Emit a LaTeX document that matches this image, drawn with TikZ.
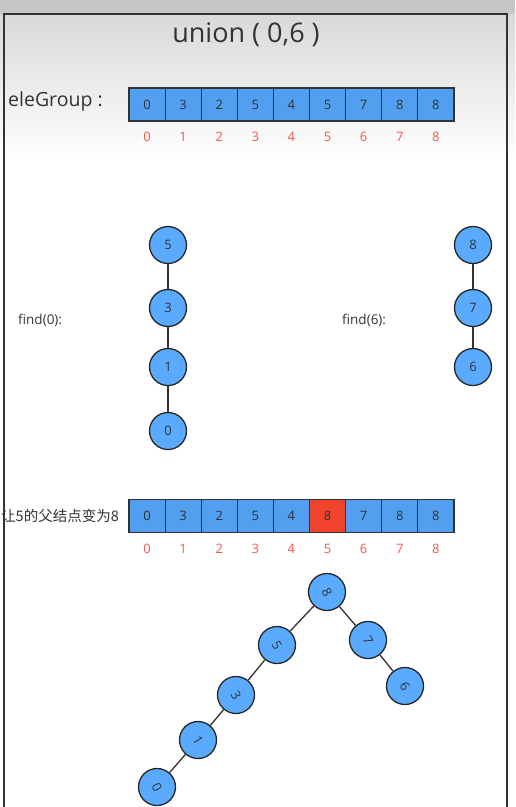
\documentclass[tikz,border=0pt]{standalone}
\usepackage{fontspec}
\setmainfont{Open Sans}
\newfontfamily\cjk{Noto Sans CJK SC}
\usetikzlibrary{positioning}

\definecolor{cellblue}{HTML}{529FEF}
\definecolor{nodeblue}{HTML}{5AABFF}
\definecolor{cellred}{HTML}{F2432C}
\definecolor{idxred}{HTML}{F05A4A}
\definecolor{ink}{HTML}{333333}

\tikzset{
  celda/.style={draw=ink, line width=1.2pt, fill=cellblue, minimum width=36.1pt,
    minimum height=33pt, inner sep=0pt, text=ink, font=\fontsize{13}{13}\selectfont},
  indice/.style={text=idxred, font=\fontsize{13}{13}\selectfont, inner sep=0pt},
  nodo/.style={draw=black!85, line width=1.3pt, circle, fill=nodeblue, minimum size=37pt,
    inner sep=0pt, text=ink, font=\fontsize{13}{13}\selectfont},
  arista/.style={draw=ink, line width=1.3pt},
  etiqueta/.style={inner sep=0pt, text=ink}
}

\begin{document}
\begin{tikzpicture}[x=1pt,y=-1pt]
  \useasboundingbox (0,0) rectangle (515,807);
  % Fondo
  \fill[gray!45] (0,0) rectangle (515,14);
  \shade[top color=gray!30, bottom color=white] (0,14) rectangle (515,160);
  \draw[ink, line width=1.3pt] (4,830) -- (4,14) -- (507,14) -- (507,830);

  % Textos
  \node[etiqueta, font=\fontsize{27}{27}\selectfont] (titulo) at (246,35) {union ( 0,6 )};
  \node[etiqueta, anchor=west, font=\fontsize{19.5}{19.5}\selectfont] (ele) at (8,101) {eleGroup :};
  \node[etiqueta, anchor=west, font=\fontsize{13.5}{13.5}\selectfont] (find0) at (18,320) {find(0):};
  \node[etiqueta, anchor=west, font=\fontsize{13.5}{13.5}\selectfont] (find6) at (342,320) {find(6):};
  \node[etiqueta, anchor=east, font=\cjk\fontsize{14.5}{14.5}\selectfont] (cambio) at (119,516) {让5的父结点变为8};

  % Arreglos
  \foreach \v [count=\i from 0] in {0,3,2,5,4,5,7,8,8}{
    \node[celda] (a\i) at (147.05+36.1*\i,104.5) {\v};
    \node[indice] (ia\i) at (147.05+36.1*\i,137) {\i};
  }
  \foreach \v [count=\i from 0] in {0,3,2,5,4,8,7,8,8}{
    \ifnum\i=5
      \node[celda, fill=cellred] (b\i) at (147.05+36.1*\i,516) {\v};
    \else
      \node[celda] (b\i) at (147.05+36.1*\i,516) {\v};
    \fi
    \node[indice] (ib\i) at (147.05+36.1*\i,549) {\i};
  }

  % Nodos
  \node[nodo] (f5) at (168,245) {5};
  \node[nodo] (f3) at (168,308) {3};
  \node[nodo] (f1) at (168,367) {1};
  \node[nodo] (f0) at (168,431) {0};
  \node[nodo] (g8) at (473,245) {8};
  \node[nodo] (g7) at (473,308) {7};
  \node[nodo] (g6) at (473,367) {6};

  \node[nodo] (t8) at (327,592) {\rotatebox{-60}{8}};
  \node[nodo] (t5) at (277,645) {\rotatebox{-60}{5}};
  \node[nodo] (t7) at (368,640) {\rotatebox{-60}{7}};
  \node[nodo] (t6) at (405,686) {\rotatebox{-60}{6}};
  \node[nodo] (t3) at (236,695) {\rotatebox{-60}{3}};
  \node[nodo] (t1) at (198,740) {\rotatebox{-60}{1}};
  \node[nodo] (t0) at (157,787) {\rotatebox{-60}{0}};

  % Aristas
  \draw[arista] (f5) -- (f3);
  \draw[arista] (f3) -- (f1);
  \draw[arista] (f1) -- (f0);
  \draw[arista] (g8) -- (g7);
  \draw[arista] (g7) -- (g6);
  \draw[arista] (t8) -- (t5);
  \draw[arista] (t8) -- (t7);
  \draw[arista] (t7) -- (t6);
  \draw[arista] (t5) -- (t3);
  \draw[arista] (t3) -- (t1);
  \draw[arista] (t1) -- (t0);
\end{tikzpicture}
\end{document}
